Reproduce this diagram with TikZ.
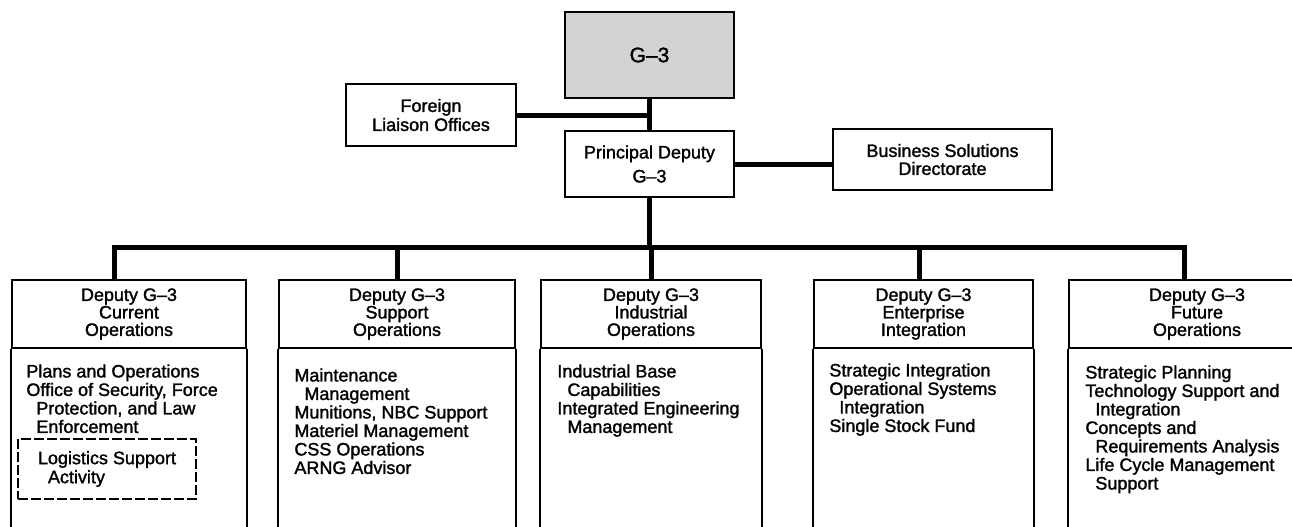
\documentclass[tikz,border=0pt]{standalone}
\usepackage{fontspec}
\setmainfont{Liberation Sans}[FakeBold=1.5]
\usepackage{tikz}
\usepackage{xcolor}
\usetikzlibrary{
    calc
}
\definecolor{boxgray}{RGB}{211,211,211}
\newcommand{\ind}{\hspace*{5pt}}
\tikzset{
    orgbox/.style={draw, line width=1pt, inner sep=0pt, align=center, font=\fontsize{9}{9}\selectfont},
    dept/.style={orgbox, minimum height=34pt, font=\fontsize{9}{8.75}\selectfont},
    duties/.style={anchor=north west, inner sep=0pt, align=left, font=\fontsize{9}{9.25}\selectfont},
    lsabox/.style={draw, line width=1.4pt, dash pattern=on 5pt off 1.5pt, inner sep=0pt, align=left,
        minimum width=89pt, minimum height=30pt, font=\fontsize{9}{9.5}\selectfont},
    link/.style={line width=2.5pt}
}

\begin{document}
\begin{tikzpicture}[x=0.5pt, y=-0.5pt]
                                \useasboundingbox (0,0) rectangle (1292,526);
                                \clip (0,0) rectangle (1292,526);
                                \node[orgbox, fill=boxgray, minimum width=84.5pt, minimum height=43pt, font=\fontsize{10.5}{12}\selectfont] (gthree) at (649.5,55) {G--3};
                                \node[orgbox, minimum width=85pt, minimum height=31pt, font=\fontsize{9}{9.5}\selectfont] (foreign) at (431,115) {Foreign\\Liaison Offices};
                                \node[orgbox, minimum width=84.5pt, minimum height=33pt, font=\fontsize{9}{12}\selectfont] (principal) at (649.5,164) {Principal Deputy\\G--3};
                                \node[orgbox, minimum width=109.5pt, minimum height=30.5pt] (business) at (942.5,159.5) {Business Solutions\\Directorate};
                                \node[dept, minimum width=117pt] (curops) at (129,314) {Deputy G--3\\Current\\Operations};
                                \node[dept, minimum width=118pt] (supops) at (397,314) {Deputy G--3\\Support\\Operations};
                                \node[dept, minimum width=110pt] (indops) at (651,314) {Deputy G--3\\Industrial\\Operations};
                                \node[dept, minimum width=109.5pt] (entint) at (923.5,314) {Deputy G--3\\Enterprise\\Integration};
                                \node[dept, minimum width=128pt] (futops) at (1197,314) {Deputy G--3\\Future\\Operations};
                                \foreach \d in {curops, supops, indops, entint, futops}
                                    \draw[line width=1pt] (\d.south west) -- ++(0,200) (\d.south east) -- ++(0,200);
                                \coordinate (busl) at (114,247);
                                \coordinate (busr) at (1184,247);
                                \draw[link] (gthree.south) -- (principal.north);
                                \draw[link] (foreign.east) -- (foreign.east -| gthree.south);
                                \draw[link] (principal.east) -- (principal.east -| business.west);
                                \draw[link] (principal.south) -- (principal.south |- busl);
                                \draw[link] (busl |- curops.north) -- (busl) -- (busr) -- (busr |- futops.north);
                                \draw[link]
                                (supops.north) -- (supops.north |- busl)
                                (indops.north) -- (indops.north |- busl)
                                (919,247) -- (919,247 |- entint.north);
                                \node[duties] (curtxt) at (26,364) {Plans and Operations\\Office of Security, Force\\\ind Protection, and Law\\\ind Enforcement};
                                \node[lsabox] (lsa) at (107,469) {Logistics Support\\\ind Activity};
                                \node[duties] (suptxt) at (294,368) {Maintenance\\\ind Management\\Munitions, NBC Support\\Materiel Management\\CSS Operations\\ARNG Advisor};
                                \node[duties] (indtxt) at (557,364) {Industrial Base\\\ind Capabilities\\Integrated Engineering\\\ind Management};
                                \node[duties] (enttxt) at (829,363) {Strategic Integration\\Operational Systems\\\ind Integration\\Single Stock Fund};
                                \node[duties] (futtxt) at (1085,365) {Strategic Planning\\Technology Support and\\\ind Integration\\Concepts and\\\ind Requirements Analysis\\Life Cycle Management\\\ind Support};
                            \end{tikzpicture}
\end{document}
